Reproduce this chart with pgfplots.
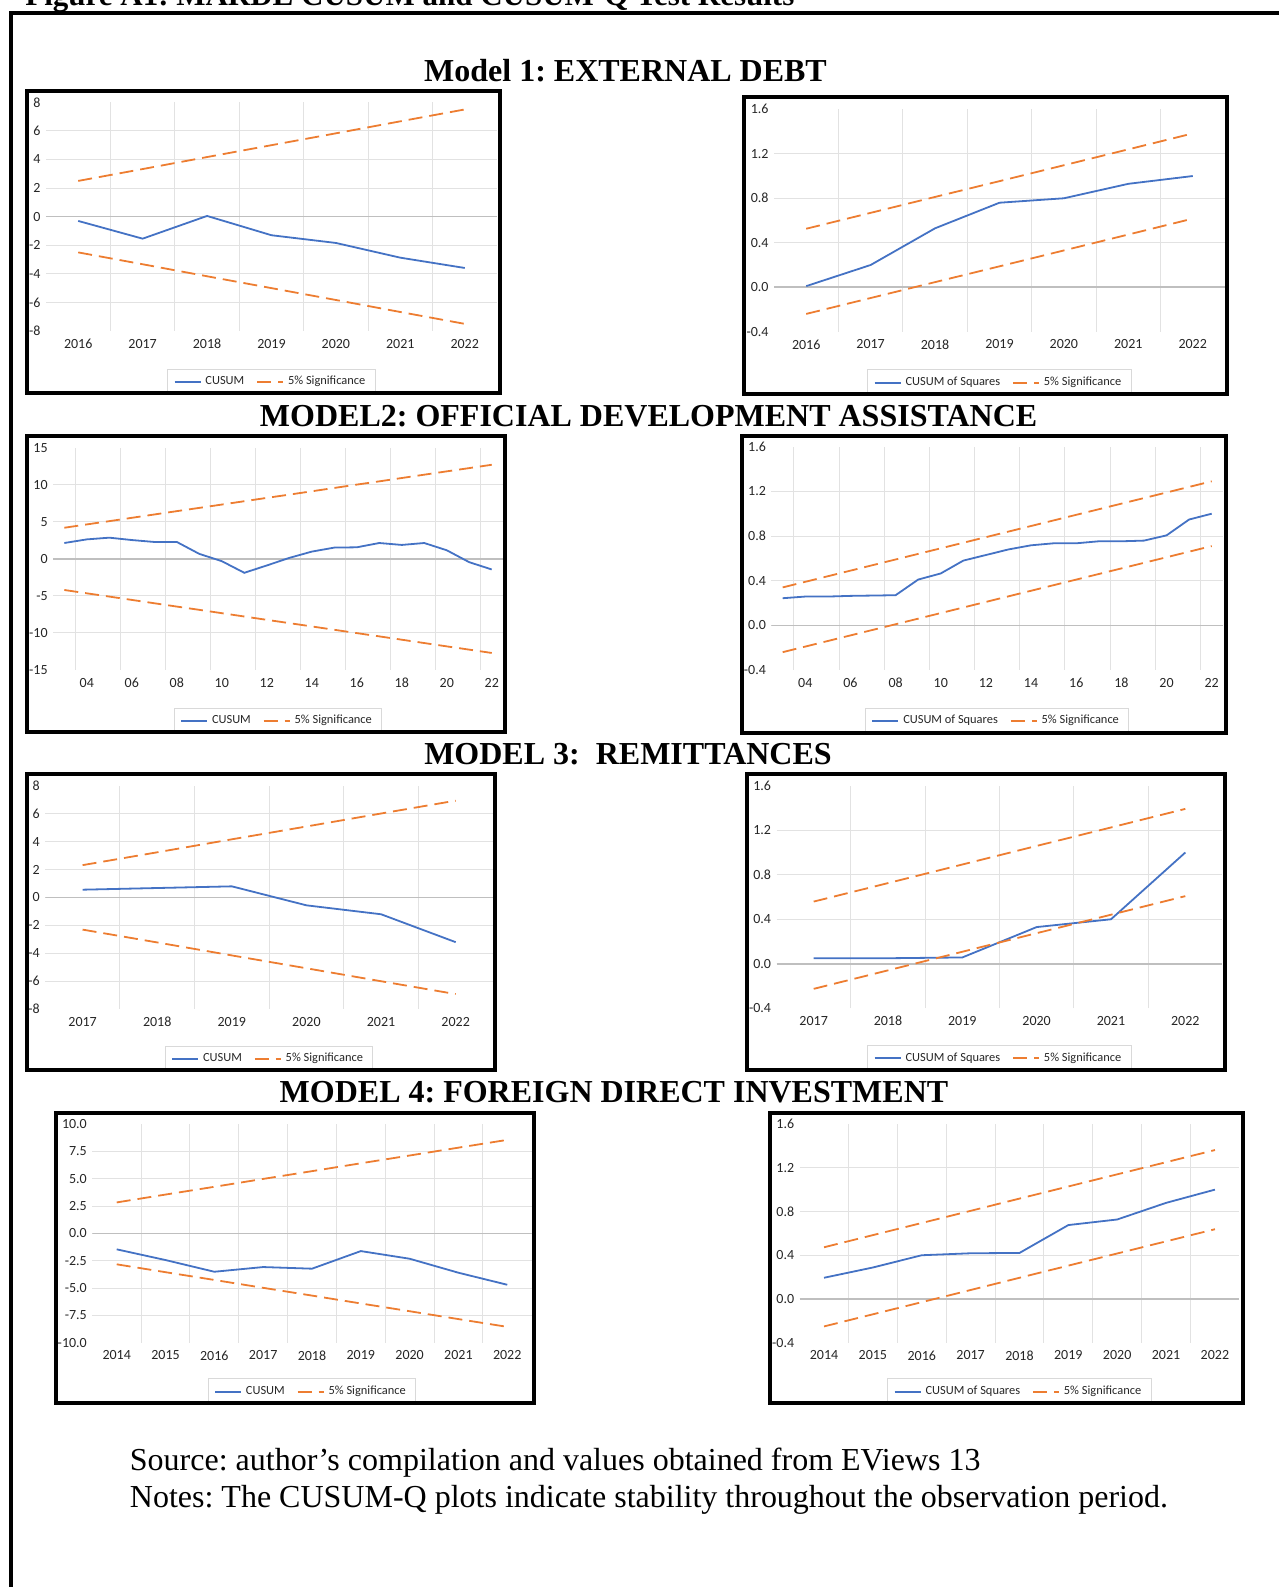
\documentclass[border=0pt]{standalone}
\usepackage{fontspec}
\setmainfont{Liberation Serif}
\newfontfamily\chartfont{Carlito}
\usepackage{pgfplots}
\pgfplotsset{compat=1.18}
\frenchspacing

\definecolor{cblue}{HTML}{4472C4}
\definecolor{corange}{HTML}{ED7D31}
\definecolor{gridc}{HTML}{E2E2E2}
\definecolor{legc}{HTML}{D9D9D9}
\definecolor{zeroc}{HTML}{BFBFBF}
\definecolor{labc}{HTML}{262626}

\pgfplotsset{
  cs/.style={
    scale only axis, anchor=south west,
    enlargelimits=false,
    axis line style={draw=none},
    major tick length=0pt, minor tick length=0pt,
    ymajorgrids=true, xminorgrids=true, xmajorgrids=false,
    major grid style={draw=gridc, line width=0.5pt},
    minor grid style={draw=gridc, line width=0.5pt},
    tick label style={font=\chartfont\fontsize{7}{8.4}\selectfont, text=labc},
    xticklabel style={yshift=-0.5pt},
    yticklabel style={xshift=0.8pt},
    extra y tick style={grid=none},
    legend style={at={(0.5,0)}, anchor=center, yshift=-25.5pt, draw=legc, line width=0.5pt,
      font=\chartfont\fontsize{6.2}{7.5}\selectfont, text=labc, inner xsep=3pt, inner ysep=1.5pt,
      /tikz/every even column/.append style={column sep=4pt}},
    legend columns=2,
    legend image code/.code={\draw[##1] (0pt,0pt) -- (13pt,0pt);},
  },
  cline/.style={cblue, line width=0.9pt},
  sline/.style={corange, line width=0.9pt, dash pattern=on 7pt off 3.5pt},
  zline/.style={zeroc, line width=0.75pt, forget plot},
  cusumA/.style={ytick={-6,-4,-2,0,2,4,6}, yticklabels={-6,-4,-2,0,2,4,6},
    extra y ticks={-8,8}, extra y tick labels={-8,8}, ymin=-8, ymax=8},
  sq/.style={ytick={0,0.4,0.8,1.2}, yticklabels={0.0,0.4,0.8,1.2},
    extra y ticks={-0.4,1.6}, extra y tick labels={-0.4,1.6}, ymin=-0.4, ymax=1.6},
  yr7/.style={xmin=2015.5, xmax=2022.5, xtick={2016,...,2022},
    xticklabels={2016,2017,2018,2019,2020,2021,2022}, minor xtick={2016.5,2017.5,...,2021.5}},
  yr20/.style={xmin=2002.5, xmax=2022.5, xtick={2004,2006,...,2022},
    xticklabels={04,06,08,10,12,14,16,18,20,22}, minor xtick={2003.5,2005.5,...,2021.5}},
  yr6/.style={xmin=2016.5, xmax=2022.5, xtick={2017,...,2022},
    xticklabels={2017,2018,2019,2020,2021,2022}, minor xtick={2017.5,2018.5,...,2021.5}},
  yr9/.style={xmin=2013.5, xmax=2022.5, xtick={2014,...,2022},
    xticklabels={2014,2015,2016,2017,2018,2019,2020,2021,2022}, minor xtick={2014.5,2015.5,...,2021.5}},
}

\begin{document}
\begin{tikzpicture}
\useasboundingbox (0,0) rectangle (639.5pt,-793.5pt);

% outer frame and cut-off figure caption
\node[anchor=base west, inner sep=0, font=\fontsize{15.5}{18}\selectfont\bfseries] at (12.5pt,-2.5pt) {Figure A1: MARDL CUSUM and CUSUM-Q Test Results};
\draw[line width=1.8pt] (5.5pt,-810pt) -- (5.5pt,-6.5pt) -- (660pt,-6.5pt);

% titles
\node[anchor=base, font=\fontsize{16}{19}\selectfont\bfseries] at (312.75pt,-40.75pt) {Model 1: EXTERNAL DEBT};
\node[anchor=base, font=\fontsize{16}{19}\selectfont\bfseries] at (324.3pt,-213pt) {MODEL2: OFFICIAL DEVELOPMENT ASSISTANCE};
\node[anchor=base, font=\fontsize{16}{19}\selectfont\bfseries] at (314pt,-382pt) {MODEL 3:\ \ REMITTANCES};
\node[anchor=base, font=\fontsize{16}{19}\selectfont\bfseries] at (307pt,-551pt) {MODEL 4: FOREIGN DIRECT INVESTMENT};

% ---------- Model 1 CUSUM
\begin{axis}[cs, cusumA, yr7, at={(23pt,-165.5pt)}, width=225.5pt, height=114.35pt]
\addplot[zline] coordinates {(2015.5,0) (2022.5,0)};
\addplot[cline] coordinates {(2016,-0.30) (2017,-1.54) (2018,0.05) (2019,-1.30) (2020,-1.84) (2021,-2.87) (2022,-3.59)};
\addplot[sline] coordinates {(2016,2.50) (2017,3.33) (2018,4.17) (2019,5.00) (2020,5.83) (2021,6.67) (2022,7.50)};
\addplot[sline, forget plot] coordinates {(2016,-2.50) (2017,-3.33) (2018,-4.17) (2019,-5.00) (2020,-5.83) (2021,-6.67) (2022,-7.50)};
\legend{CUSUM, 5\% Significance}
\end{axis}

% ---------- Model 1 CUSUM of squares
\begin{axis}[cs, sq, yr7, at={(387pt,-165.85pt)}, width=225.5pt, height=111.2pt]
\addplot[zline] coordinates {(2015.5,0) (2022.5,0)};
\addplot[cline] coordinates {(2016,0.01) (2017,0.20) (2018,0.53) (2019,0.76) (2020,0.80) (2021,0.93) (2022,1.00)};
\addplot[sline] coordinates {(2016,0.526) (2017,0.669) (2018,0.812) (2019,0.954) (2020,1.097) (2021,1.240) (2022,1.383)};
\addplot[sline, forget plot] coordinates {(2016,-0.240) (2017,-0.097) (2018,0.046) (2019,0.188) (2020,0.331) (2021,0.474) (2022,0.617)};
\legend{CUSUM of Squares, 5\% Significance}
\end{axis}

% ---------- Model 2 CUSUM
\begin{axis}[cs, yr20, at={(26.55pt,-335pt)}, width=224.95pt, height=111.15pt,
  ymin=-15, ymax=15, ytick={-10,-5,0,5,10}, yticklabels={-10,-5,0,5,10},
  extra y ticks={-15,15}, extra y tick labels={-15,15}]
\addplot[zline] coordinates {(2002.5,0) (2022.5,0)};
\addplot[cline] coordinates {(2003,2.14) (2004,2.63) (2005,2.86) (2006,2.54) (2007,2.28) (2008,2.28) (2009,0.67) (2010,-0.31) (2011,-1.88) (2012,-0.89) (2013,0.13) (2014,0.98) (2015,1.52) (2016,1.56) (2017,2.14) (2018,1.88) (2019,2.14) (2020,1.16) (2021,-0.45) (2022,-1.43)};
\addplot[sline] coordinates {(2003,4.20) (2004,4.65) (2005,5.09) (2006,5.54) (2007,5.99) (2008,6.44) (2009,6.88) (2010,7.33) (2011,7.78) (2012,8.23) (2013,8.67) (2014,9.12) (2015,9.57) (2016,10.02) (2017,10.46) (2018,10.91) (2019,11.36) (2020,11.81) (2021,12.25) (2022,12.70)};
\addplot[sline, forget plot] coordinates {(2003,-4.20) (2004,-4.65) (2005,-5.09) (2006,-5.54) (2007,-5.99) (2008,-6.44) (2009,-6.88) (2010,-7.33) (2011,-7.78) (2012,-8.23) (2013,-8.67) (2014,-9.12) (2015,-9.57) (2016,-10.02) (2017,-10.46) (2018,-10.91) (2019,-11.36) (2020,-11.81) (2021,-12.25) (2022,-12.70)};
\legend{CUSUM, 5\% Significance}
\end{axis}

% ---------- Model 2 CUSUM of squares
\begin{axis}[cs, sq, yr20, at={(385.7pt,-335pt)}, width=225.8pt, height=111.65pt]
\addplot[zline] coordinates {(2002.5,0) (2022.5,0)};
\addplot[cline] coordinates {(2003,0.243) (2004,0.258) (2005,0.258) (2006,0.264) (2007,0.267) (2008,0.270) (2009,0.410) (2010,0.465) (2011,0.580) (2012,0.630) (2013,0.680) (2014,0.717) (2015,0.735) (2016,0.735) (2017,0.753) (2018,0.753) (2019,0.759) (2020,0.806) (2021,0.948) (2022,1.000)};
\addplot[sline] coordinates {(2003,0.34) (2004,0.39) (2005,0.44) (2006,0.49) (2007,0.54) (2008,0.59) (2009,0.64) (2010,0.69) (2011,0.74) (2012,0.79) (2013,0.84) (2014,0.89) (2015,0.94) (2016,0.99) (2017,1.04) (2018,1.09) (2019,1.14) (2020,1.19) (2021,1.24) (2022,1.29)};
\addplot[sline, forget plot] coordinates {(2003,-0.24) (2004,-0.19) (2005,-0.14) (2006,-0.09) (2007,-0.04) (2008,0.01) (2009,0.06) (2010,0.11) (2011,0.16) (2012,0.21) (2013,0.26) (2014,0.31) (2015,0.36) (2016,0.41) (2017,0.46) (2018,0.51) (2019,0.56) (2020,0.61) (2021,0.66) (2022,0.71)};
\legend{CUSUM of Squares, 5\% Significance}
\end{axis}

% ---------- Model 3 CUSUM
\begin{axis}[cs, cusumA, yr6, at={(22.65pt,-504.5pt)}, width=223.85pt, height=111.65pt,
  legend style={yshift=0.5pt}]
\addplot[zline] coordinates {(2016.5,0) (2022.5,0)};
\addplot[cline] coordinates {(2017,0.55) (2018,0.67) (2019,0.79) (2020,-0.57) (2021,-1.21) (2022,-3.21)};
\addplot[sline] coordinates {(2017,2.31) (2018,3.23) (2019,4.16) (2020,5.08) (2021,6.01) (2022,6.93)};
\addplot[sline, forget plot] coordinates {(2017,-2.31) (2018,-3.23) (2019,-4.16) (2020,-5.08) (2021,-6.01) (2022,-6.93)};
\legend{CUSUM, 5\% Significance}
\end{axis}

% ---------- Model 3 CUSUM of squares
\begin{axis}[cs, sq, yr6, at={(388.25pt,-504.15pt)}, width=223pt, height=111.3pt,
  legend style={yshift=0.5pt}]
\addplot[zline] coordinates {(2016.5,0) (2022.5,0)};
\addplot[cline] coordinates {(2017,0.050) (2018,0.050) (2019,0.057) (2020,0.330) (2021,0.400) (2022,1.000)};
\addplot[sline] coordinates {(2017,0.559) (2018,0.725) (2019,0.892) (2020,1.059) (2021,1.225) (2022,1.392)};
\addplot[sline, forget plot] coordinates {(2017,-0.225) (2018,-0.059) (2019,0.108) (2020,0.275) (2021,0.441) (2022,0.608)};
\legend{CUSUM of Squares, 5\% Significance}
\end{axis}

% ---------- Model 4 CUSUM
\begin{axis}[cs, yr9, at={(46.15pt,-671.35pt)}, width=219.7pt, height=109.35pt,
  ymin=-10, ymax=10, ytick={-7.5,-5,-2.5,0,2.5,5,7.5}, yticklabels={-7.5,-5.0,-2.5,0.0,2.5,5.0,7.5},
  extra y ticks={-10,10}, extra y tick labels={-10.0,10.0}, legend style={yshift=1pt}]
\addplot[zline] coordinates {(2013.5,0) (2022.5,0)};
\addplot[cline] coordinates {(2014,-1.46) (2015,-2.44) (2016,-3.51) (2017,-3.08) (2018,-3.23) (2019,-1.62) (2020,-2.32) (2021,-3.60) (2022,-4.70)};
\addplot[sline] coordinates {(2014,2.83) (2015,3.55) (2016,4.26) (2017,4.98) (2018,5.69) (2019,6.41) (2020,7.12) (2021,7.84) (2022,8.55)};
\addplot[sline, forget plot] coordinates {(2014,-2.83) (2015,-3.55) (2016,-4.26) (2017,-4.98) (2018,-5.69) (2019,-6.41) (2020,-7.12) (2021,-7.84) (2022,-8.55)};
\legend{CUSUM, 5\% Significance}
\end{axis}

% ---------- Model 4 CUSUM of squares
\begin{axis}[cs, sq, yr9, at={(399.8pt,-671.35pt)}, width=219.9pt, height=109.35pt,
  legend style={yshift=1pt}]
\addplot[zline] coordinates {(2013.5,0) (2022.5,0)};
\addplot[cline] coordinates {(2014,0.194) (2015,0.288) (2016,0.400) (2017,0.418) (2018,0.421) (2019,0.676) (2020,0.727) (2021,0.879) (2022,1.000)};
\addplot[sline] coordinates {(2014,0.473) (2015,0.584) (2016,0.695) (2017,0.806) (2018,0.918) (2019,1.029) (2020,1.140) (2021,1.251) (2022,1.362)};
\addplot[sline, forget plot] coordinates {(2014,-0.251) (2015,-0.140) (2016,-0.029) (2017,0.082) (2018,0.194) (2019,0.305) (2020,0.416) (2021,0.527) (2022,0.638)};
\legend{CUSUM of Squares, 5\% Significance}
\end{axis}

% panel frames
\begin{scope}[line width=2pt]
\draw (13.5pt,-45.5pt) rectangle (250pt,-196.5pt);
\draw (372pt,-48.5pt) rectangle (613.5pt,-197pt);
\draw (13.5pt,-218pt) rectangle (252.5pt,-366pt);
\draw (371pt,-218pt) rectangle (613pt,-366.5pt);
\draw (13.5pt,-387pt) rectangle (247.5pt,-535pt);
\draw (373.5pt,-387pt) rectangle (612.5pt,-535pt);
\draw (28pt,-556.5pt) rectangle (267pt,-701.5pt);
\draw (385pt,-556.5pt) rectangle (621.5pt,-701.5pt);
\end{scope}

% source / notes
\node[anchor=base west, inner sep=0, font=\fontsize{16}{19}\selectfont] at (64.75pt,-735pt) {Source: author’s compilation and values obtained from EViews 13};
\node[anchor=base west, inner sep=0, font=\fontsize{16}{19}\selectfont] at (64.75pt,-753.5pt) {Notes: The CUSUM-Q plots indicate stability throughout the observation period.};
\end{tikzpicture}
\end{document}
